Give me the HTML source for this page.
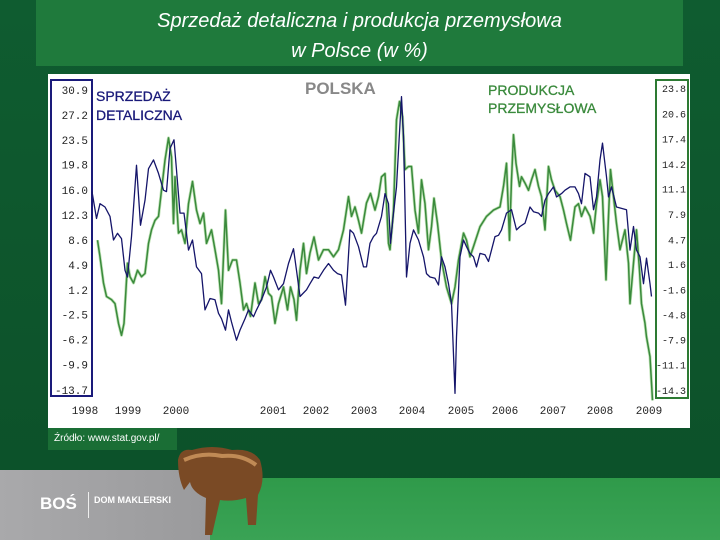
<!DOCTYPE html>
<html><head><meta charset="utf-8"><style>
body{margin:0;width:720px;height:540px;overflow:hidden;background:#0e5a2e;font-family:"Liberation Sans",sans-serif;position:relative}
.abs{position:absolute}
</style></head><body>
<div class="abs" style="left:0;top:0;width:720px;height:540px;background:linear-gradient(#0f5c30,#0c5029)"></div>
<div class="abs" style="left:210px;top:478px;width:510px;height:62px;background:linear-gradient(#2f9a4a,#3aa355)"></div>
<div class="abs" style="left:0;top:470px;width:210px;height:70px;background:linear-gradient(90deg,#a9a9ab,#9a9a9c)"></div>
<div class="abs" style="left:40px;top:494px;color:#fff;font-weight:bold;font-size:17px">BOŚ</div>
<div class="abs" style="left:88px;top:492px;width:1px;height:26px;background:#eee"></div>
<div class="abs" style="left:94px;top:495px;color:#fff;font-weight:bold;font-size:9px">DOM MAKLERSKI</div>
<div class="abs" style="left:36px;top:0;width:647px;height:66px;background:#1f7a3c;color:#fff;font-style:italic;font-size:20px;text-align:center;line-height:30px;padding-top:6px;box-sizing:border-box">Sprzedaż detaliczna i produkcja przemysłowa<br>w Polsce (w %)</div>
<div class="abs" style="left:48px;top:428px;width:129px;height:22px;background:#1a6e35;color:#fff;font-size:10px;line-height:22px;padding-left:6px;box-sizing:border-box">Źródło: www.stat.gov.pl/</div>
<svg class="abs" style="left:172px;top:440px" width="100" height="100">
<path d="M6 20 Q8 8 20 10 Q40 4 60 10 Q80 8 88 20 Q94 40 86 55 L84 85 L76 85 L74 58 Q60 62 48 60 L40 95 L33 95 L34 58 Q20 52 18 42 L12 50 Q6 38 6 20Z" fill="#7a4a25"/>
<path d="M12 20 Q30 12 50 16 Q70 14 84 25" stroke="#c08a55" stroke-width="4" fill="none"/>
</svg>
<div class="abs" style="left:48px;top:74px;width:642px;height:354px;background:#fff"></div>
<svg class="abs" id="chart" style="left:0;top:0" width="720" height="540"></svg>
<script>
const leftTicks=["30.9","27.2","23.5","19.8","16.0","12.3","8.6","4.9","1.2","-2.5","-6.2","-9.9","-13.7"];
const rightTicks=["23.8","20.6","17.4","14.2","11.1","7.9","4.7","1.6","-1.6","-4.8","-7.9","-11.1","-14.3"];
const yearLabels=["1998","1999","2000","2001","2002","2003","2004","2005","2006","2007","2008","2009"];
const yearLabelPos=[1997.86,1998.72,1999.68,2001.62,2002.48,2003.44,2004.40,2005.38,2006.26,2007.22,2008.16,2009.14];
const retailT=[1998.00,1998.09,1998.16,1998.26,1998.36,1998.43,1998.51,1998.59,1998.66,1998.71,1998.79,1998.89,1998.97,1999.06,1999.13,1999.23,1999.33,1999.43,1999.49,1999.56,1999.64,1999.69,1999.76,1999.84,1999.93,2000.01,2000.09,2000.19,2000.26,2000.36,2000.46,2000.53,2000.59,2000.67,2000.73,2000.79,2000.89,2000.96,2001.06,2001.13,2001.23,2001.29,2001.39,2001.49,2001.57,2001.63,2001.73,2001.83,2001.93,2002.03,2002.09,2002.16,2002.29,2002.36,2002.44,2002.53,2002.63,2002.73,2002.83,2002.91,2002.99,2003.07,2003.16,2003.23,2003.33,2003.43,2003.49,2003.56,2003.63,2003.69,2003.79,2003.86,2003.93,2003.97,2004.03,2004.09,2004.16,2004.19,2004.23,2004.29,2004.36,2004.43,2004.53,2004.63,2004.69,2004.76,2004.86,2004.93,2004.99,2005.06,2005.13,2005.19,2005.26,2005.29,2005.36,2005.43,2005.49,2005.56,2005.63,2005.69,2005.76,2005.86,2005.93,2005.99,2006.06,2006.13,2006.19,2006.29,2006.39,2006.49,2006.56,2006.66,2006.76,2006.83,2006.93,2006.99,2007.06,2007.13,2007.23,2007.29,2007.39,2007.46,2007.56,2007.66,2007.73,2007.79,2007.86,2007.96,2008.03,2008.09,2008.16,2008.21,2008.29,2008.33,2008.39,2008.49,2008.59,2008.69,2008.76,2008.83,2008.89,2008.96,2009.03,2009.09,2009.16,2009.19];
const retailV=[15.8,11.8,14.0,13.5,12.1,8.6,9.6,8.8,4.1,3.1,9.1,19.7,10.8,14.5,19.2,20.5,18.5,16.0,15.8,22.2,23.5,19.0,12.6,12.6,7.1,8.6,4.6,3.6,-1.8,-0.1,-0.3,-2.3,-3.1,-4.8,-1.8,-3.6,-6.3,-4.8,-3.1,-1.8,-2.8,-1.8,-0.3,1.6,4.1,3.1,1.2,2.1,5.1,7.3,4.1,0.2,1.2,2.1,3.1,2.9,4.1,5.1,4.1,3.6,3.4,-1.1,10.1,9.6,7.6,4.6,4.6,8.1,9.1,9.6,12.1,15.5,14.0,8.1,12.6,16.5,25.9,29.9,24.0,3.1,8.1,10.1,8.6,6.1,3.6,3.1,2.9,1.9,6.1,4.6,2.1,-0.8,-14.2,-5.8,6.1,8.6,7.6,6.6,6.1,4.6,6.6,6.4,5.4,7.1,9.1,9.3,10.1,12.6,13.1,10.1,10.6,11.1,13.5,12.8,12.6,12.1,14.5,15.5,16.5,15.0,15.5,16.0,16.5,16.5,15.5,14.0,18.5,18.0,13.1,15.0,20.5,23.0,18.0,15.0,16.5,13.5,13.3,13.1,7.1,10.6,7.1,6.1,2.1,5.9,2.1,0.2];
const prodT=[1998.11,1998.16,1998.23,1998.29,1998.39,1998.46,1998.53,1998.59,1998.64,1998.71,1998.76,1998.83,1998.91,1998.99,1999.06,1999.13,1999.19,1999.26,1999.33,1999.39,1999.46,1999.53,1999.59,1999.63,1999.66,1999.73,1999.79,1999.86,1999.93,2000.01,2000.09,2000.16,2000.23,2000.29,2000.39,2000.46,2000.53,2000.59,2000.67,2000.73,2000.81,2000.89,2000.96,2001.03,2001.09,2001.17,2001.26,2001.33,2001.39,2001.46,2001.53,2001.59,2001.66,2001.73,2001.83,2001.91,2001.97,2002.04,2002.09,2002.16,2002.23,2002.29,2002.36,2002.44,2002.53,2002.63,2002.73,2002.83,2002.93,2003.03,2003.13,2003.19,2003.26,2003.33,2003.39,2003.49,2003.57,2003.66,2003.73,2003.79,2003.86,2003.93,2003.96,2004.03,2004.09,2004.15,2004.21,2004.26,2004.33,2004.39,2004.46,2004.53,2004.59,2004.66,2004.73,2004.79,2004.84,2004.91,2004.99,2005.09,2005.19,2005.26,2005.33,2005.43,2005.49,2005.56,2005.63,2005.76,2005.89,2006.03,2006.16,2006.23,2006.29,2006.35,2006.39,2006.43,2006.48,2006.55,2006.59,2006.66,2006.73,2006.79,2006.86,2006.93,2006.99,2007.06,2007.13,2007.19,2007.26,2007.36,2007.43,2007.49,2007.57,2007.66,2007.73,2007.79,2007.86,2007.96,2008.03,2008.09,2008.16,2008.21,2008.28,2008.33,2008.37,2008.43,2008.49,2008.56,2008.66,2008.73,2008.76,2008.83,2008.89,2008.95,2008.99,2009.06,2009.09,2009.16,2009.21];
const prodV=[4.6,2.5,-0.8,-2.5,-2.9,-3.4,-5.9,-7.4,-5.9,1.7,0.0,-0.8,0.8,0.0,0.4,4.2,5.9,7.1,7.6,10.9,14.7,17.5,15.1,6.7,12.6,5.5,5.9,4.2,9.2,12.0,8.4,6.7,8.0,4.2,5.9,3.4,0.8,-3.4,8.4,0.8,2.1,2.1,-0.8,-4.2,-3.4,-5.0,-0.8,-3.4,-2.9,0.0,-2.1,-2.5,-5.9,-3.4,-1.3,-4.2,-1.3,-2.9,-5.5,0.8,4.2,0.4,3.0,5.0,2.1,3.4,3.4,2.5,3.4,5.9,10.1,7.6,8.8,7.1,5.5,9.3,10.5,8.4,10.1,12.6,13.0,4.2,3.4,8.4,19.8,22.1,20.2,13.5,13.9,13.9,8.4,5.5,12.2,9.2,3.4,6.3,9.9,6.7,2.1,-1.3,-3.4,-1.3,2.1,5.5,4.6,2.5,3.8,6.3,7.6,8.4,8.8,11.4,14.3,4.6,12.2,17.9,14.3,11.4,12.6,11.8,10.9,12.2,13.5,11.4,10.1,5.9,13.9,12.2,10.9,10.1,8.4,6.7,4.6,8.8,9.2,7.6,8.8,7.6,5.5,9.2,12.2,10.1,-0.4,7.6,13.5,10.1,6.7,3.4,5.9,1.7,-3.4,1.7,5.9,0.8,-3.4,-5.9,-7.6,-10.1,-15.6];

const NS='http://www.w3.org/2000/svg';
const svg=document.getElementById('chart');
const xS=t=>92+(t-1998)*50;
const yL=v=>90+(30.9-v)*25/3.717;
const yR=v=>88+(23.8-v)*302/38.1;
function mk(tag,attrs){const e=document.createElementNS(NS,tag);for(const k in attrs)e.setAttribute(k,attrs[k]);svg.appendChild(e);return e;}

let ax=mk('rect',{x:51,y:80,width:41,height:316,fill:'none',stroke:'#1a1a7a','stroke-width':2});


ax=mk('rect',{x:656,y:80,width:32,height:318,fill:'none',stroke:'#2d7a33','stroke-width':2});



leftTicks.forEach((s,i)=>{const t=mk('text',{x:88,y:yL(+s)+4,'text-anchor':'end','font-size':11,'font-family':'Liberation Mono, monospace',fill:'#222'});t.textContent=s;

});
rightTicks.forEach((s,i)=>{const t=mk('text',{x:686,y:yR(+s)+4,'text-anchor':'end','font-size':10,'font-family':'Liberation Mono, monospace',fill:'#222'});t.textContent=s;

});
yearLabels.forEach((s,i)=>{const t=mk('text',{x:xS(yearLabelPos[i]),y:414,'text-anchor':'middle','font-size':11,'font-family':'Liberation Mono, monospace',fill:'#222'});t.textContent=s;

});

function pts(T,V,f){return T.map((t,i)=>xS(t).toFixed(1)+','+f(V[i]).toFixed(1)).join(' ');}
let p=mk('polyline',{points:pts(prodT,prodV,yR),fill:'none',stroke:'#bfe2b6','stroke-width':3,'stroke-linejoin':'round'});


p=mk('polyline',{points:pts(prodT,prodV,yR),fill:'none',stroke:'#3a8a3c','stroke-width':1.5,'stroke-linejoin':'round'});


p=mk('polyline',{points:pts(retailT,retailV,yL),fill:'none',stroke:'#15156a','stroke-width':1.3,'stroke-linejoin':'round'});



function label(x,y,txt,fill,size,name,bold){const t=mk('text',{x:x,y:y,'font-size':size,fill:fill,'font-family':'Liberation Sans, sans-serif','font-weight':bold?'bold':'normal','stroke':fill,'stroke-width':bold?0:0.3});t.textContent=txt;

}
label(305,94,'POLSKA','#888',17,'country-title',true);
label(96,101,'SPRZEDAŻ','#1a1a7a',14,'retail-label-line1');
label(96,120,'DETALICZNA','#1a1a7a',14,'retail-label-line2');
label(488,95,'PRODUKCJA','#3a8a3c',14,'production-label-line1');
label(488,113,'PRZEMYSŁOWA','#3a8a3c',14,'production-label-line2');
</script>
</body></html>
